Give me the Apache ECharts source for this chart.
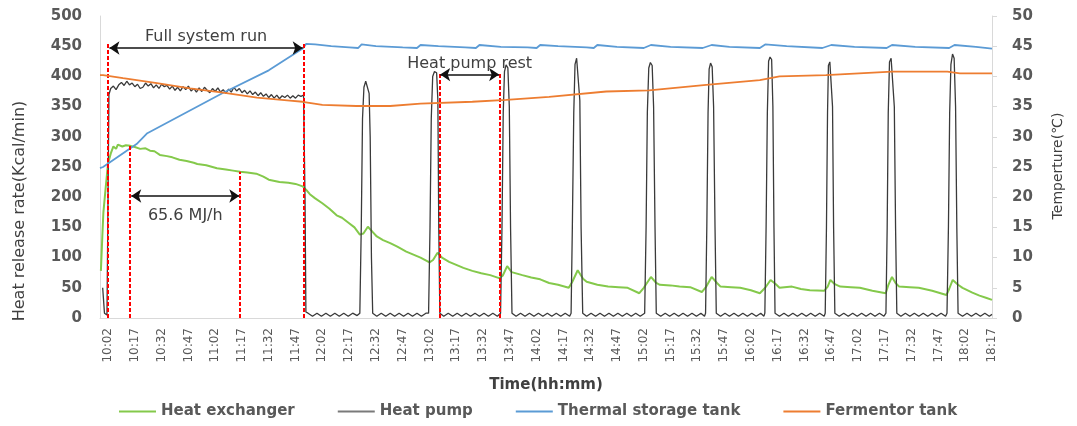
<!DOCTYPE html>
<html><head><meta charset="utf-8">
<script src="https://cdn.jsdelivr.net/npm/echarts@6/dist/echarts.min.js"></script>
<style>html,body{margin:0;padding:0;background:#fff}#c{width:1077px;height:426px}</style>
</head><body><div id="c"></div>
<script>
// time is in minutes elapsed since 10:02
const tickLabels = ['10:02','10:17','10:32','10:47','11:02','11:17','11:32','11:47','12:02','12:17','12:32','12:47','13:02','13:17','13:32','13:47','14:02','14:17','14:32','14:47','15:02','15:17','15:32','15:47','16:02','16:17','16:32','16:47','17:02','17:17','17:32','17:47','18:02','18:17'];

const heatExchanger = [[-4,78],[-3.2,135],[-2.6,175],[-1.5,210],[0,256],[1.5,272],[3,284],[4.5,280],[5.5,287],[8,284],[10,286],[12.5,285],[15,283],[18,280],[21,281],[23.5,277],[26,276],[29,270],[33,268],[36,266],[40,262],[44,260],[48,257],[50,255],[55,253],[61,248],[66,246],[70,244],[74,242],[78,241],[83,239],[87,234],[90,229],[91,226],[96,225],[101,224],[105,222],[109,218],[111,212],[113,205],[116,198],[120,190],[124,181],[128,170],[131,166],[135,157],[138,150],[141,138],[143,140],[145.5,151],[148,143],[150.5,135],[154,129],[158,124],[162,118],[167,110],[171,105],[175,100],[180,92],[182,96],[184.5,108],[187,100],[191,93],[195,88],[199,83],[204,78],[209,74],[214,71],[219,66],[221,70],[223.5,86],[226,76],[232,71],[237,67],[242,64],[247,58],[252,55],[258,50],[260,60],[263,79],[266,65],[268,60],[274,55],[280,52],[286,51],[291,50],[297.5,41],[300,50],[304,68],[307,58],[309,55],[315,54],[320,52],[326,51],[332.5,43],[335,52],[338,68],[341,58],[343,52],[349,51],[354,50],[360,46],[365,41],[368,50],[371,63],[374,56],[376,50],[383,52],[388,48],[393,46],[401,45],[403,52],[404.5,63],[407,56],[410,52],[416,51],[421,50],[428,45],[435.5,41],[437,55],[439,68],[441,58],[443,52],[449,51],[454,50],[461.5,45],[469.5,38],[471,48],[473,63],[476,55],[478.5,50],[484,42],[488,37],[492,33],[495,30]];

const heatPump = [[-3,50],[-2,8],[-0.6,5],[0,200],[0.5,370],[1.5,380],[3,384],[4.5,378],[6,386],[7.5,390],[9,385],[10.5,392],[12,386],[13.5,389],[15,383],[16.5,387],[18,380],[19.5,382],[21,389],[22.5,384],[24,388],[25.5,381],[27,386],[28.5,380],[30,387],[31.5,383],[33,385],[34.5,379],[36,384],[37.5,377],[39,382],[40.5,376],[42,383],[43.5,378],[45,384],[46.5,376],[48,380],[49.5,374],[51,381],[52.5,375],[54,382],[55.5,377],[57,373],[58.5,380],[60,375],[61.5,381],[63,374],[64.5,378],[66,372],[67.5,379],[69,374],[70.5,382],[72,376],[73.5,380],[75,373],[76.5,377],[78,371],[79.5,376],[81,370],[82.5,374],[84,368],[85.5,373],[87,367],[88.5,371],[90,365],[91.5,370],[93,364],[94.5,369],[96,363],[97.5,368],[99,365],[100.5,369],[102,364],[103.5,368],[105,364],[106.5,369],[108,367],[109.5,369],[110.3,200],[110.8,10],
[112,8],[114.5,3],[117,8],[119.5,3],[122,8],[124.5,3],[127,8],[129.5,3],[132,8],[134.5,3],[137,8],[139.5,4],
[141,8],[141.8,150],[142.5,330],[143.3,382],[144.3,392],[145.3,392],[146.2,372],[146.8,300],[147.5,100],[148.2,8],
[150.5,3],[153,8],[155.5,3],[158,8],[160.5,3],[163,8],[165.5,3],[168,8],[170.5,3],[173,8],[175.5,3],[178,8],
[179.5,8],[180.3,150],[181,330],[181.8,400],[182.8,408],[184,406],[184.7,360],[185.2,150],[185.8,8],
[188,3],[190.5,8],[193,3],[195.5,8],[198,3],[200.5,8],[203,3],[205.5,8],[208,3],[210.5,8],[213,3],[215.5,8],[218,3],
[219.8,8],[220.6,150],[221.3,340],[222,408],[222.9,419],[223.9,414],[224.7,350],[225.4,150],[226.2,8],
[228.5,3],[231,8],[233.5,3],[236,8],[238.5,3],[241,8],[243.5,3],[246,8],[248.5,3],[251,8],[253.5,3],[256,8],[258.5,3],
[259.3,8],[260,150],[260.8,340],[261.5,420],[262.4,430],[263.4,428],[264.2,360],[264.9,150],[265.8,8],
[268,3],[270.5,8],[273,3],[275.5,8],[278,3],[280.5,8],[283,3],[285.5,8],[288,3],[290.5,8],[293,3],[295.5,8],[298,3],
[300.5,8],[301.3,150],[302,340],[302.8,414],[303.7,423],[304.7,418],[305.5,350],[306.3,150],[307,8],
[309.5,3],[312,8],[314.5,3],[317,8],[319.5,3],[322,8],[324.5,3],[327,8],[329.5,3],[332,8],[334,3],
[334.6,8],[335.3,150],[336,340],[336.6,412],[337.4,422],[338.3,416],[339.1,350],[339.9,150],[340.6,8],
[343,3],[345.5,8],[348,3],[350.5,8],[353,3],[355.5,8],[358,3],[360.5,8],[363,3],[365.5,8],[367.3,3],
[367.8,8],[368.5,150],[369.2,340],[369.9,425],[370.7,432],[371.6,428],[372.3,350],[372.9,150],[373.5,8],
[376,3],[378.5,8],[381,3],[383.5,8],[386,3],[388.5,8],[391,3],[393.5,8],[396,3],[398.5,8],[401,3],
[401.6,8],[402.3,150],[402.9,340],[403.4,418],[404.2,424],[405,421],[405.7,350],[406.3,150],[407,8],
[409.5,3],[412,8],[414.5,3],[417,8],[419.5,3],[422,8],[424.5,3],[427,8],[429.5,3],[432,8],[434.5,3],
[435.6,8],[436.3,150],[436.9,340],[437.6,424],[438.5,430],[439.5,428],[440.3,350],[441,150],[441.7,8],
[444,3],[446.5,8],[449,3],[451.5,8],[454,3],[456.5,8],[459,3],[461.5,8],[464,3],[466.5,8],[469,3],
[469.8,8],[470.6,150],[471.3,340],[472,420],[472.9,437],[473.8,430],[474.6,350],[475.3,150],[476,8],
[478.5,3],[481,8],[483.5,3],[486,8],[488.5,3],[491,8],[493.5,3],[495,6]];

const thermalStorageTank = [[-4.5,24.8],[-2.8,25.0],[16,28.8],[22,30.6],[64,37.2],[90,41.0],[109,44.6],[111,45.4],[116,45.3],[125,45.0],[135,44.8],[140,44.7],[142,45.3],[150,45.0],[165,44.8],[173,44.7],[175,45.2],[185,45.0],[200,44.8],[206,44.7],[208,45.2],[220,44.9],[235,44.8],[240,44.7],[242,45.2],[252,45.0],[268,44.8],[272,44.7],[274,45.2],[285,44.9],[300,44.7],[304,45.2],[315,44.9],[333,44.7],[338,45.2],[348,44.9],[365,44.7],[368,45.3],[380,45.0],[400,44.7],[405,45.2],[418,44.9],[436,44.7],[439,45.2],[452,44.9],[471,44.7],[474,45.2],[486,44.9],[495,44.6]];

const fermentorTank = [[-4.5,40.2],[-2.8,40.2],[8.4,39.7],[27.4,38.9],[45.9,38.0],[64.4,37.3],[83.4,36.5],[101.8,36.0],[109,35.8],[120,35.3],[139,35.1],[158,35.1],[175,35.5],[204,35.8],[223,36.1],[247,36.6],[279,37.5],[303,37.7],[335,38.6],[365,39.4],[376,40.0],[402,40.2],[439,40.8],[470,40.8],[477,40.5],[495,40.5]];

// red dashed markers: [time, top value on left axis]
const markers = [[-0.4,457],[12.3,286],[73.9,242],[109.5,455],[185.5,407],[219.4,407]];

// annotation arrows: [label, from time, to time, level on left axis]
const arrows = [['Full system run',0.8,109,447],['65.6 MJ/h',13,73.5,202],['Heat pump rest',186,219,403]];

const toMin = s => { const p = s.split(':').map(Number); return p[0]*60 + p[1] - 602; };
const fmt = t => { const a = Math.round(t) + 602; const h = Math.floor(a/60), m = a % 60; return h + ':' + String(m).padStart(2,'0'); };

const FONT = 'DejaVu Sans';
const LBL = '#595959';
const chart = echarts.init(document.getElementById('c'));
chart.setOption({
  animation: false,
  backgroundColor: '#ffffff',
  grid: {left: 100, right: 85, top: 16, bottom: 108},
  legend: {
    top: 399, left: 114, itemWidth: 37, itemHeight: 2, itemGap: 43, icon: 'rect',
    data: ['Heat exchanger','Heat pump','Thermal storage tank','Fermentor tank'],
    textStyle: {fontFamily: FONT, fontSize: 15, fontWeight: 'bold', color: LBL}
  },
  xAxis: {
    type: 'value', min: -4.5, max: 495,
    axisLine: {show: true, onZero: false, lineStyle: {color: '#d9d9d9', width: 1}},
    axisTick: {show: false}, splitLine: {show: false},
    axisLabel: {customValues: tickLabels.map(toMin), rotate: 90, margin: 10, formatter: v => fmt(v),
      color: LBL, fontFamily: FONT, fontSize: 12},
    name: 'Time(hh:mm)', nameLocation: 'middle', nameGap: 60,
    nameTextStyle: {fontFamily: FONT, fontSize: 15, fontWeight: 'bold', color: '#404040'}
  },
  yAxis: [{
    type: 'value', min: 0, max: 500, interval: 50,
    axisLine: {show: true, onZero: false, lineStyle: {color: '#d9d9d9'}},
    axisTick: {show: false}, splitLine: {show: false},
    axisLabel: {margin: 18, color: LBL, fontFamily: FONT, fontSize: 15, fontWeight: 'bold'}
  }, {
    type: 'value', position: 'right', min: 0, max: 50, interval: 5,
    axisLine: {show: true, onZero: false, lineStyle: {color: '#d9d9d9'}},
    axisTick: {show: true, length: 5, lineStyle: {color: '#d9d9d9'}}, splitLine: {show: false},
    axisLabel: {margin: 20, color: LBL, fontFamily: FONT, fontSize: 15, fontWeight: 'bold'}
  }],
  graphic: [
    {type: 'text', x: 19.5, y: 211, rotation: Math.PI/2,
     style: {text: 'Heat release rate(Kcal/min)', fill: '#404040', font: '16px "DejaVu Sans"', align: 'center', verticalAlign: 'middle'}},
    {type: 'text', x: 1058, y: 166, rotation: Math.PI/2,
     style: {text: 'Temperture(℃)', fill: '#404040', font: '14px "DejaVu Sans"', align: 'center', verticalAlign: 'middle'}}
  ],
  series: [
    {name: 'Heat exchanger', type: 'line', yAxisIndex: 0, data: heatExchanger, symbol: 'none', z: 2,
     lineStyle: {color: '#84c94b', width: 2}, itemStyle: {color: '#84c94b'}},
    {name: 'Heat pump', type: 'line', yAxisIndex: 0, data: heatPump, symbol: 'none', z: 3,
     lineStyle: {color: '#3a3a3a', width: 1.3}, itemStyle: {color: '#7a7a7a'}},
    {name: 'Thermal storage tank', type: 'line', yAxisIndex: 1, data: thermalStorageTank, symbol: 'none', z: 4,
     lineStyle: {color: '#5b9bd5', width: 1.8}, itemStyle: {color: '#5b9bd5'}},
    {name: 'Fermentor tank', type: 'line', yAxisIndex: 1, data: fermentorTank, symbol: 'none', z: 5,
     lineStyle: {color: '#ed7d31', width: 1.8}, itemStyle: {color: '#ed7d31'}},
    {name: 'markers', type: 'line', yAxisIndex: 0, data: [], z: 10, silent: true,
     markLine: {silent: true, symbol: ['none','none'], label: {show: false}, emphasis: {disabled: true},
       lineStyle: {color: '#ff0000', width: 2, type: [4, 2]},
       data: markers.map(m => [{coord: [m[0], 0]}, {coord: [m[0], m[1]]}])}},
    {name: 'arrows', type: 'line', yAxisIndex: 0, data: [], z: 11, silent: true,
     markLine: {silent: true, symbol: ['arrow','arrow'], symbolSize: 10, emphasis: {disabled: true},
       lineStyle: {color: '#111111', width: 1.5, type: 'solid'}, itemStyle: {color: '#111111'},
       label: {show: true, formatter: '{b}', color: '#404040', fontFamily: FONT, fontSize: 16},
       data: arrows.map(a => [
         {name: a[0], coord: [a[1], a[3]], label: {position: a[0] === '65.6 MJ/h' ? 'insideMiddleBottom' : 'insideMiddleTop', distance: a[0] === '65.6 MJ/h' ? 12 : 3}},
         {coord: [a[2], a[3]]}])}}
  ]
});
</script></body></html>
